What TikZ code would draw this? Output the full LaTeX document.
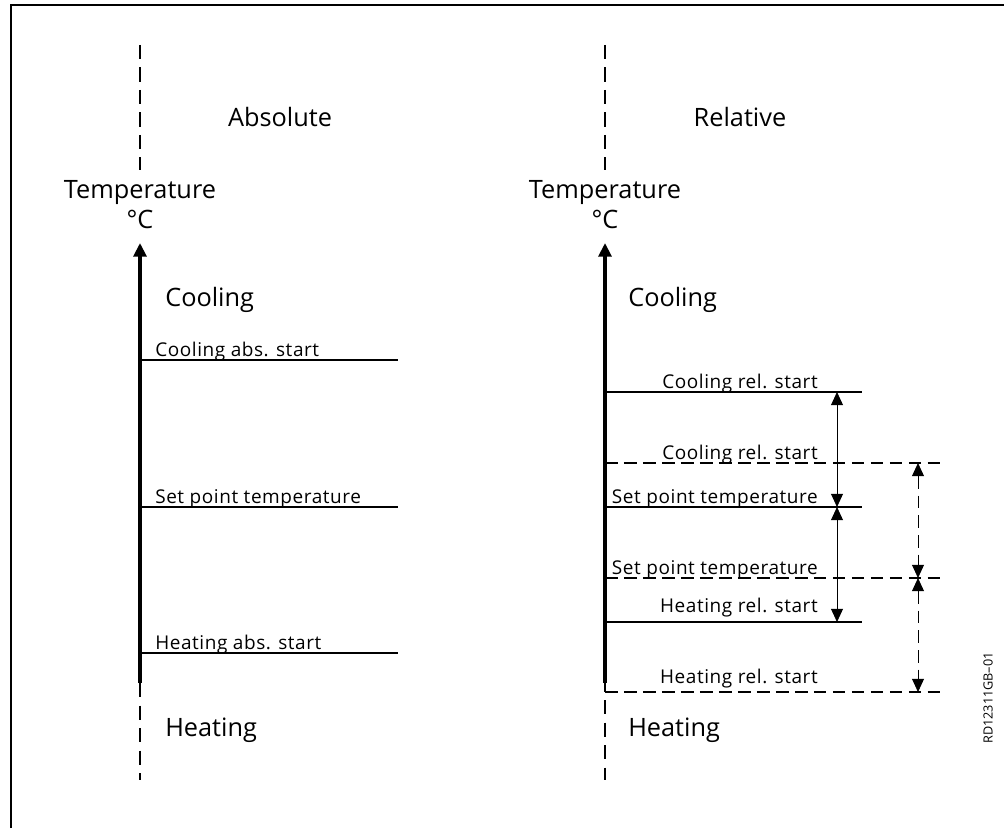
\documentclass[tikz,border=0pt]{standalone}
\usepackage{fontspec}
\setmainfont{Open Sans}
\usetikzlibrary{arrows.meta, positioning}

\begin{document}
\begin{tikzpicture}[x=0.025cm, y=-0.025cm,
    axis/.style={line width=2.6pt, -{Triangle[length=3.4mm, width=3.2mm]}},
    level/.style={line width=1.1pt},
    shifted/.style={line width=1.1pt, dash pattern=on 9pt off 4.5pt},
    guide/.style={line width=1.1pt, dash pattern=on 10pt off 6pt},
    dimsolid/.style={line width=0.6pt, {Triangle[length=3.3mm, width=3mm]}-{Triangle[length=3.3mm, width=3mm]}},
    dimdashed/.style={dimsolid, dash pattern=on 9pt off 5pt},
    biglabel/.style={font=\fontsize{18}{21}\selectfont, inner sep=0pt},
    smalllabel/.style={font=\fontsize{13.5}{16}\selectfont\addfontfeature{LetterSpace=3}, inner sep=0pt}]

    % Fix the page size
    \useasboundingbox (0,0) rectangle (1004,828);

    % Frame (only the top and left edges show)
    \draw[line width=2pt] (11,828) |- (1004,5);

    % Positions of the two axes
    \def\xabs{140}
    \def\xrel{605}

    % ---- Absolute ----
    \node[biglabel] (abstitle) at (280,117) {Absolute};
    \draw[guide] (\xabs,45) -- (\xabs,170);
    \node[biglabel] (abstemp) at (\xabs,193) {Temperature};
    \node[biglabel] (absunit) at (\xabs,219) {°C};
    \coordinate (absbottom) at (\xabs,683);
    \coordinate (abstip) at (\xabs,243);
    \draw[axis] (absbottom) -- (abstip);
    \draw[guide] (absbottom) -- (\xabs,780);
    \node[biglabel, anchor=west] (abscool) at (165,300) {Cooling};
    \node[biglabel, anchor=west] (absheat) at (165,730) {Heating};

    % Absolute levels
    \draw[level] (\xabs,360) -- (398,360);
    \node[smalllabel, anchor=base west] (abscoolstart) at (155,356) {Cooling abs. start};
    \draw[level] (\xabs,507) -- (398,507);
    \node[smalllabel, anchor=base west] (absset) at (155,503) {Set point temperature};
    \draw[level] (\xabs,653) -- (398,653);
    \node[smalllabel, anchor=base west] (absheatstart) at (155,649) {Heating abs. start};

    % ---- Relative ----
    \node[biglabel] (reltitle) at (740,117) {Relative};
    \draw[guide] (\xrel,45) -- (\xrel,170);
    \node[biglabel] (reltemp) at (\xrel,193) {Temperature};
    \node[biglabel] (relunit) at (\xrel,219) {°C};
    \coordinate (relbottom) at (\xrel,683);
    \coordinate (reltip) at (\xrel,243);
    \draw[axis] (relbottom) -- (reltip);
    \draw[level] (relbottom) -- (\xrel,692);
    \draw[guide] (\xrel,700) -- (\xrel,780);
    \node[biglabel, anchor=west] (relcool) at (628,300) {Cooling};
    \node[biglabel, anchor=west] (relheat) at (628,730) {Heating};

    % Relative levels, solid
    \draw[level] (\xrel,392) -- (862,392);
    \node[smalllabel, anchor=base east] (coolrel) at (818,388) {Cooling rel. start};
    \draw[level] (\xrel,507) -- (862,507);
    \node[smalllabel, anchor=base east] (setrel) at (818,503) {Set point temperature};
    \draw[level] (\xrel,622) -- (862,622);
    \node[smalllabel, anchor=base east] (heatrel) at (818,612) {Heating rel. start};

    % Relative levels, shifted (dashed)
    \draw[shifted] (\xrel,463) -- (943,463);
    \node[smalllabel, anchor=base east] (coolrelb) at (818,459) {Cooling rel. start};
    \draw[shifted] (\xrel,578) -- (943,578);
    \node[smalllabel, anchor=base east] (setrelb) at (818,574) {Set point temperature};
    \draw[shifted] (\xrel,692) -- (943,692);
    \node[smalllabel, anchor=base east] (heatrelb) at (818,683) {Heating rel. start};

    % Distances between the levels
    \coordinate (dcool) at (837,392);
    \coordinate (dset) at (837,507);
    \coordinate (dheat) at (837,622);
    \draw[dimsolid] (dcool) -- (dset);
    \draw[dimsolid] (dset) -- (dheat);
    \coordinate (dcoolb) at (918,463);
    \coordinate (dsetb) at (918,578);
    \coordinate (dheatb) at (918,692);
    \draw[dimdashed] (dcoolb) -- (dsetb);
    \draw[dimdashed] (dsetb) -- (dheatb);

    % Drawing number
    \node[rotate=90, font=\fontsize{9}{10}\selectfont] (drawno) at (988,698) {RD12311GB–01};

\end{tikzpicture}
\end{document}
